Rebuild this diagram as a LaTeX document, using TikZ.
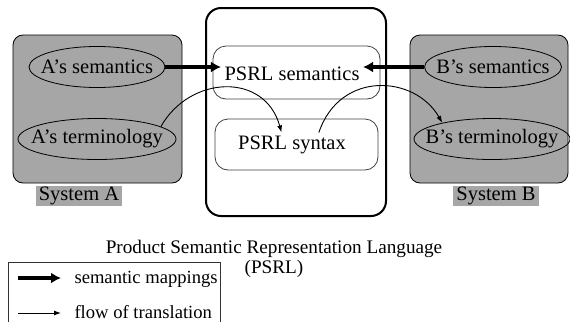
\documentclass[tikz,border=0pt]{standalone}
\usepackage{fontspec}
\setmainfont{Liberation Serif}
\usetikzlibrary{arrows.meta,shapes.geometric}
\definecolor{sysgray}{RGB}{166,166,166}

\begin{document}
\begin{tikzpicture}[
  x=1pt, y=-1pt,
  every node/.style={font=\fontsize{20.5}{24}\selectfont},
  sysbox/.style={
    draw, fill=sysgray, rounded corners=10pt,
    line width=0.8pt, inner sep=0pt, minimum height=148pt
  },
  sysitem/.style={
    ellipse, draw, line width=0.8pt,
    inner sep=0pt, minimum height=41pt
  },
  syslabel/.style={fill=sysgray, inner xsep=3pt, inner ysep=1pt},
  layer/.style={
    draw=black!75, rounded corners=13pt,
    line width=0.8pt, inner sep=0pt
  },
  semmap/.style={line width=4pt, -{Latex[length=10pt,width=11pt]}},
  flow/.style={line width=0.9pt, -{Latex[length=7pt,width=5pt]}},
  smalltext/.style={font=\fontsize{19.2}{20}\selectfont},
  keytext/.style={font=\fontsize{18.6}{20}\selectfont, anchor=base west}
]
  \useasboundingbox (0,0) rectangle (570,322);
  \node[sysbox, minimum width=169pt] (sysA) at (97.5,109){};
  \node[sysbox, minimum width=158pt] (sysB) at (489,109){};
  \node[draw, line width=2pt, rounded corners=15pt,
        minimum width=180pt, minimum height=208pt] (psrl) at (296,112){};
  \node[layer, minimum width=167pt, minimum height=53pt] (psem) at (296.5,72.5){};
  \node[layer, minimum width=163pt, minimum height=51pt] (psyn) at (296.5,144.5){};
  \node (psemtxt) at (292,74){PSRL semantics};
  \node (psyntxt) at (292,145){PSRL syntax};

  \node[sysitem, minimum width=136pt] (asem) at (97,67){\makebox[0pt]{A's semantics}};
  \node[sysitem, minimum width=158pt] (aterm) at (97,139){\makebox[0pt]{A's terminology}};
  \node[sysitem, minimum width=137pt] (bsem) at (493,67){\makebox[0pt]{B's semantics}};
  \node[sysitem, minimum width=156pt] (bterm) at (492,139){\makebox[0pt]{B's terminology}};
  \node[syslabel] (labA) at (79,196){System A};
  \node[syslabel] (labB) at (496,196){System B};

  \draw[semmap] (asem.east)--(asem.east -| psemtxt.west);
  \draw[semmap] (bsem.west)--(bsem.west -| psemtxt.east);
  \draw[flow] (aterm.11) .. controls (190,75) and (265,72) .. (psyntxt.130);
  \draw[flow] (psyntxt.25) .. controls (340,70) and (415,75) .. (bterm.162);

  \node[smalltext, align=center] (caption) at (274,259)
    {Product Semantic Representation Language\\(PSRL)};

  \draw[draw=black!80, line width=0.9pt] (8,322) |- (220,262) -- (220,322);
  \coordinate (semA) at (18,278);
  \coordinate (semB) at (61,278);
  \coordinate (flowA) at (18,313);
  \coordinate (flowB) at (61,313);
  \draw[semmap] (semA)--(semB);
  \draw[flow] (flowA)--(flowB);
  \node[keytext] (semkey) at (71,283){semantic mappings};
  \node[keytext] (flowkey) at (71,318.5){flow of translation};
\end{tikzpicture}
\end{document}
